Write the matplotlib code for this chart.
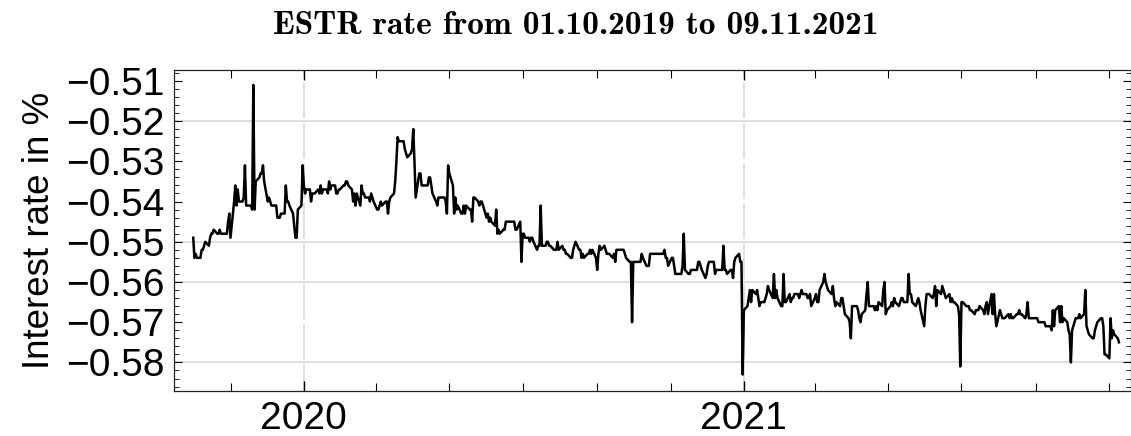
import matplotlib
matplotlib.use("Agg")
import matplotlib.pyplot as plt
import matplotlib.dates as mdates
import pandas as pd

# Euro short-term rate (ESTR), daily fixings on business days, in percent
start_date = "2019-10-01"
end_date = "2021-11-09"
rate = [
    -0.549, -0.554, -0.553, -0.554, -0.554, -0.552, -0.552, -0.551, -0.550, -0.551,
    -0.549, -0.548, -0.548, -0.547, -0.548, -0.548, -0.547, -0.548, -0.548, -0.548,
    -0.548, -0.545, -0.543, -0.549, -0.540, -0.536, -0.541, -0.537, -0.540, -0.540,
    -0.539, -0.531, -0.541, -0.541, -0.541, -0.542, -0.511, -0.542, -0.535, -0.534,
    -0.533, -0.533, -0.531, -0.535, -0.540, -0.539, -0.540, -0.541, -0.541, -0.541,
    -0.544, -0.544, -0.544, -0.543, -0.543, -0.536, -0.540, -0.540, -0.541, -0.543,
    -0.546, -0.549, -0.549, -0.542, -0.541, -0.531, -0.536, -0.538, -0.537, -0.537,
    -0.540, -0.538, -0.538, -0.538, -0.537, -0.538, -0.536, -0.538, -0.537, -0.537,
    -0.538, -0.535, -0.537, -0.536, -0.536, -0.538, -0.538, -0.537, -0.537, -0.536,
    -0.536, -0.535, -0.535, -0.536, -0.537, -0.540, -0.538, -0.541, -0.538, -0.541,
    -0.536, -0.538, -0.538, -0.539, -0.539, -0.540, -0.538, -0.539, -0.540, -0.542,
    -0.542, -0.541, -0.540, -0.541, -0.540, -0.540, -0.543, -0.540, -0.539, -0.538,
    -0.535, -0.530, -0.524, -0.525, -0.525, -0.525, -0.527, -0.528, -0.529, -0.528,
    -0.527, -0.522, -0.530, -0.539, -0.533, -0.533, -0.536, -0.536, -0.536, -0.536,
    -0.534, -0.534, -0.536, -0.538, -0.540, -0.541, -0.539, -0.539, -0.539, -0.539,
    -0.540, -0.543, -0.531, -0.533, -0.536, -0.543, -0.539, -0.542, -0.541, -0.543,
    -0.543, -0.541, -0.543, -0.541, -0.542, -0.542, -0.545, -0.539, -0.539, -0.540,
    -0.541, -0.540, -0.540, -0.541, -0.544, -0.543, -0.545, -0.544, -0.545, -0.546,
    -0.542, -0.548, -0.547, -0.548, -0.547, -0.547, -0.545, -0.545, -0.545, -0.545,
    -0.545, -0.545, -0.547, -0.547, -0.545, -0.555, -0.548, -0.548, -0.549, -0.549,
    -0.550, -0.549, -0.549, -0.550, -0.552, -0.551, -0.551, -0.541, -0.551, -0.551,
    -0.550, -0.550, -0.551, -0.551, -0.552, -0.552, -0.552, -0.550, -0.552, -0.551,
    -0.552, -0.552, -0.553, -0.553, -0.554, -0.554, -0.552, -0.551, -0.550, -0.552,
    -0.552, -0.554, -0.553, -0.554, -0.553, -0.553, -0.552, -0.553, -0.552, -0.554,
    -0.557, -0.553, -0.551, -0.552, -0.551, -0.552, -0.553, -0.553, -0.553, -0.554,
    -0.553, -0.555, -0.552, -0.552, -0.552, -0.552, -0.552, -0.553, -0.554, -0.555,
    -0.555, -0.570, -0.555, -0.555, -0.555, -0.555, -0.555, -0.553, -0.554, -0.556,
    -0.556, -0.556, -0.553, -0.553, -0.553, -0.553, -0.553, -0.553, -0.553, -0.553,
    -0.552, -0.554, -0.554, -0.556, -0.554, -0.554, -0.556, -0.558, -0.558, -0.558,
    -0.558, -0.556, -0.548, -0.557, -0.558, -0.558, -0.557, -0.557, -0.557, -0.557,
    -0.555, -0.555, -0.556, -0.557, -0.559, -0.558, -0.556, -0.555, -0.555, -0.555,
    -0.558, -0.557, -0.557, -0.557, -0.557, -0.551, -0.557, -0.557, -0.558, -0.557,
    -0.557, -0.559, -0.555, -0.554, -0.553, -0.555, -0.555, -0.583, -0.567, -0.566,
    -0.564, -0.562, -0.565, -0.562, -0.563, -0.562, -0.564, -0.566, -0.565, -0.565,
    -0.564, -0.563, -0.561, -0.562, -0.564, -0.558, -0.564, -0.562, -0.564, -0.566,
    -0.566, -0.558, -0.565, -0.565, -0.563, -0.565, -0.564, -0.564, -0.563, -0.563,
    -0.564, -0.563, -0.562, -0.563, -0.563, -0.564, -0.564, -0.563, -0.566, -0.564,
    -0.563, -0.565, -0.565, -0.562, -0.560, -0.558, -0.560, -0.561, -0.562, -0.563,
    -0.561, -0.564, -0.566, -0.565, -0.566, -0.564, -0.564, -0.566, -0.568, -0.569,
    -0.570, -0.574, -0.566, -0.566, -0.566, -0.567, -0.569, -0.570, -0.568, -0.567,
    -0.563, -0.560, -0.566, -0.566, -0.566, -0.567, -0.566, -0.567, -0.565, -0.566,
    -0.562, -0.560, -0.568, -0.567, -0.566, -0.565, -0.566, -0.564, -0.565, -0.566,
    -0.565, -0.564, -0.564, -0.565, -0.565, -0.558, -0.563, -0.563, -0.565, -0.566,
    -0.565, -0.564, -0.565, -0.567, -0.571, -0.566, -0.563, -0.563, -0.563, -0.564,
    -0.563, -0.561, -0.566, -0.562, -0.563, -0.561, -0.562, -0.563, -0.564, -0.563,
    -0.565, -0.564, -0.565, -0.565, -0.566, -0.568, -0.581, -0.565, -0.565, -0.566,
    -0.566, -0.566, -0.567, -0.567, -0.568, -0.567, -0.567, -0.567, -0.566, -0.567,
    -0.568, -0.566, -0.565, -0.568, -0.563, -0.568, -0.563, -0.568, -0.571, -0.567,
    -0.568, -0.569, -0.569, -0.569, -0.568, -0.569, -0.568, -0.569, -0.569, -0.568,
    -0.568, -0.567, -0.568, -0.568, -0.569, -0.568, -0.565, -0.569, -0.569, -0.569,
    -0.569, -0.569, -0.569, -0.570, -0.570, -0.570, -0.570, -0.571, -0.571, -0.571,
    -0.572, -0.567, -0.571, -0.567, -0.566, -0.570, -0.566, -0.570, -0.569, -0.570,
    -0.572, -0.573, -0.580, -0.572, -0.569, -0.569, -0.569, -0.568, -0.569, -0.568,
    -0.562, -0.571, -0.572, -0.573, -0.574, -0.574, -0.572, -0.571, -0.570, -0.569,
    -0.569, -0.571, -0.578, -0.578, -0.579, -0.569, -0.574, -0.572, -0.573, -0.574,
    -0.575,
]
dates = pd.bdate_range(start_date, end_date)

y_ticks = [-0.58, -0.57, -0.56, -0.55, -0.54, -0.53, -0.52, -0.51]
grid_levels = [-0.58, -0.56, -0.55, -0.52]
title = "ESTR rate from 01.10.2019 to 09.11.2021"
ylabel = "Interest rate in %"

plt.rcParams["font.family"] = ["Liberation Sans", "DejaVu Sans"]
plt.rcParams["lines.scale_dashes"] = False

W, H = 1131, 436
fig = plt.figure(figsize=(W / 100, H / 100), dpi=100)
ax = fig.add_axes([174 / W, 1 - 391 / H, (W - 174) / W, (391 - 70) / H])

ax.plot(dates, rate, color="black", lw=1.8, zorder=3)

ax.set_xlim(pd.Timestamp("2019-09-15"), pd.Timestamp("2021-11-19"))
ax.set_ylim(-0.5871, -0.5073)

ax.xaxis.set_major_locator(mdates.YearLocator())
ax.xaxis.set_major_formatter(mdates.DateFormatter("%Y"))
ax.xaxis.set_minor_locator(mdates.MonthLocator(bymonth=[1, 3, 5, 7, 9, 11]))
ax.set_yticks(y_ticks)
ax.set_yticklabels([f"{v:.2f}".replace("-", "\u2212") for v in y_ticks])
ax.yaxis.set_minor_locator(matplotlib.ticker.AutoMinorLocator(5))

ax.tick_params(which="both", direction="in", top=True, right=True,
               labelsize=28, colors="black")
ax.tick_params(axis="x", which="major", length=7, width=1.0, pad=7)
ax.tick_params(axis="x", which="minor", length=5.5, width=0.8)
ax.tick_params(axis="y", which="major", length=6, width=0.8, pad=7)
ax.tick_params(axis="y", which="minor", length=3.5, width=0.6)

for s in ax.spines.values():
    s.set_linewidth(0.9)
    s.set_color("#222222")

for lvl in grid_levels:
    ax.axhline(lvl, color="#d4d4d4", lw=1.1, zorder=0)
ax.grid(axis="x", which="major", color="#d4d4d4", lw=1.1, zorder=0,
        linestyle=(6.5, (25.4, 3.6)))

ax.set_ylabel(ylabel, fontsize=26.5, labelpad=6)

fig.text(575.5 / W, 1 - 26 / H, title, ha="center", va="center",
         fontsize=24, family=["cmb10", "DejaVu Serif"])

fig.savefig("out.png", dpi=100)
